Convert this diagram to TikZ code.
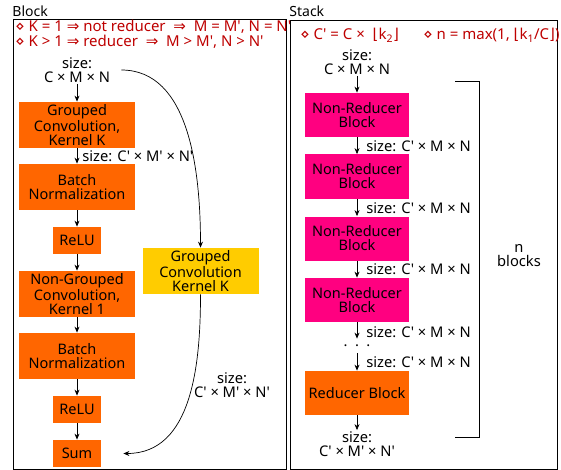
\documentclass[tikz,border=0pt]{standalone}
\usepackage{fontspec}
\setmainfont{Noto Sans}[Ligatures=TeXOff]
\newfontfamily\symb{DejaVu Sans}
\usetikzlibrary{arrows.meta}

\definecolor{orangeC}{RGB}{255,102,0}
\definecolor{roseC}{RGB}{255,0,128}
\definecolor{jauneC}{RGB}{255,204,0}
\definecolor{rougeN}{RGB}{190,0,0}

\tikzset{couche/.style = {fill=#1, minimum width=116pt, minimum height=46pt,
                          inner sep=0pt, align=center,
                          font=\fontsize{14.5}{14}\selectfont},
         couche/.default=orangeC,
         petit/.style = {couche=#1, minimum width=48pt, minimum height=27pt},
         petit/.default=orangeC,
         bloc/.style = {couche=#1, minimum width=104pt, minimum height=44pt},
         bloc/.default=roseC,
         taille/.style = {align=center, inner sep=1pt,
                          font=\fontsize{14.7}{14}\selectfont},
         note/.style = {anchor=base west, inner sep=0pt, text=rougeN,
                        font=\fontsize{15}{15}\selectfont},
         titre/.style = {anchor=base west, inner sep=0pt,
                         font=\fontsize{14}{15}\selectfont},
         fleche/.style = {-{Stealth[length=6pt,width=5pt]}, line width=0.7pt}
        }

\begin{document}
\begin{tikzpicture}[x=1pt, y=-1pt, line width=0.8pt]
  \useasboundingbox (0,0) rectangle (561,470);
  \draw (13,19) rectangle (286,469);
  \draw (290,20) rectangle (557,469);
  \node[titre] (tb) at (12,17) {Block};
  \node[titre] (ts) at (289,17) {Stack};
  \node[note] (n1) at (15,32) {{\symb ⋄} K = 1 {\symb ⇒} not reducer \ {\symb ⇒} \ M = M', N = N'};
  \node[note] (n2) at (15,47) {{\symb ⋄} K > 1 {\symb ⇒} reducer \ {\symb ⇒} \ M > M', N > N'};
  \node[note] (n3) at (300,40) {{\symb ⋄} C' = C × \ {\symb ⌊}k\textsubscript{2}{\symb ⌋}};
  \node[note] (n4) at (423,40) {{\symb ⋄} n = max(1, {\symb ⌊}k\textsubscript{1}/C{\symb ⌋})};

  \node[taille] (s0) at (77,70) {size:\\C × M × N};
  \node[couche] (g1) at (77,125) {Grouped\\Convolution,\\Kernel K};
  \node[couche] (bn1) at (77,187) {Batch\\Normalization};
  \node[petit] (r1) at (77,240.5) {ReLU};
  \node[couche] (ng) at (77,294) {Non-Grouped\\Convolution,\\Kernel 1};
  \node[couche] (bn2) at (77,356) {Batch\\Normalization};
  \node[petit] (r2) at (77,409.5) {ReLU};
  \node[petit] (sum) at (77,453.5) {Sum};
  \node[couche=jauneC] (gk) at (200.5,271) {Grouped\\Convolution\\Kernel K};
  \node[taille, anchor=west] (s1) at (81,156) {size: C' × M' × N'};
  \node[taille] (s2) at (232,385) {size:\\C' × M' × N'};

  \draw[fleche] (s0) -- (g1);
  \draw[fleche] (g1) -- (bn1);
  \draw[fleche] (bn1) -- (r1);
  \draw[fleche] (r1) -- (ng);
  \draw[fleche] (ng) -- (bn2);
  \draw[fleche] (bn2) -- (r2);
  \draw[fleche] (r2) -- (sum);
  \draw[fleche, shorten <=10pt] (s0.east) to[out=0, in=90] (gk.north);
  \draw[fleche] (gk.south) to[out=-90, in=0] ([xshift=22pt]sum.east);

  \node[taille] (t0) at (357,62) {size:\\C × M × N};
  \node[bloc] (b1) at (357,115) {Non-Reducer\\Block};
  \node[bloc] (b2) at (357,176.5) {Non-Reducer\\Block};
  \node[bloc] (b3) at (357,238.5) {Non-Reducer\\Block};
  \node[bloc] (b4) at (357,300) {Non-Reducer\\Block};
  \node[taille, minimum height=14pt] (pts) at (357,346) {.\,\,\,.\,\,\,.};
  \node[bloc=orangeC] (rb) at (357,393) {Reducer Block};
  \node[taille] (t1) at (357,444) {size:\\C' × M' × N'};
  \node[taille, anchor=west] (l1) at (365,146) {size: C' × M × N};
  \node[taille, anchor=west] (l2) at (365,208) {size: C' × M × N};
  \node[taille, anchor=west] (l3) at (365,269) {size: C' × M × N};
  \node[taille, anchor=west] (l4) at (365,332) {size: C' × M × N};
  \node[taille, anchor=west] (l5) at (365,362) {size: C' × M × N};
  \node[taille] (nb) at (519,256) {n\\blocks};

  \draw[fleche] (t0) -- (b1);
  \draw[fleche] (b1) -- (b2);
  \draw[fleche] (b2) -- (b3);
  \draw[fleche] (b3) -- (b4);
  \draw[fleche] (b4) -- (pts);
  \draw[fleche] (pts) -- (rb);
  \draw[fleche] (rb) -- (t1);
  \draw (455,81) -- (479,81) -- (479,437) -- (455,437);
\end{tikzpicture}
\end{document}
